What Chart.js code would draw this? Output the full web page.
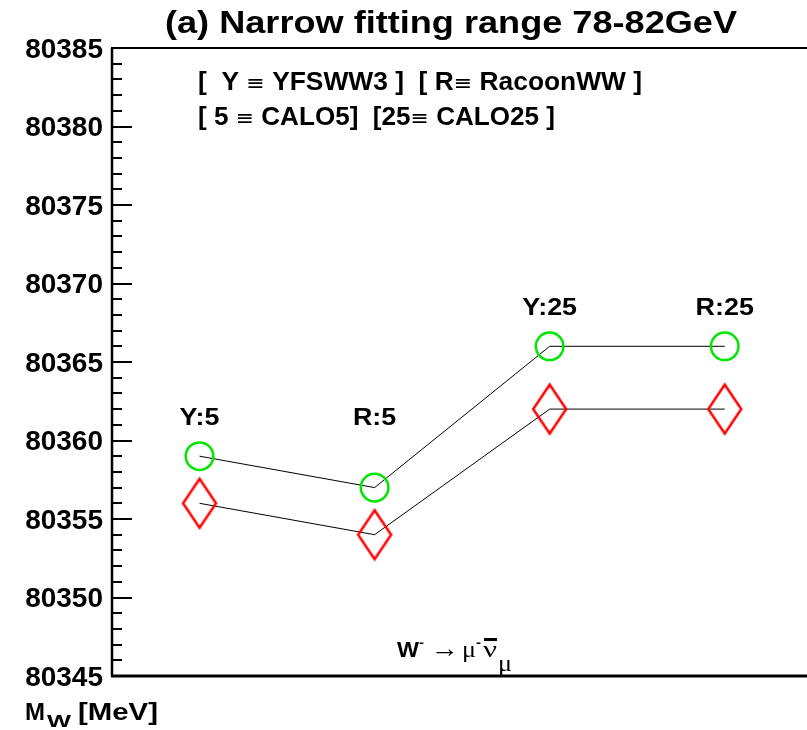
<!DOCTYPE html>
<html>
<head>
<meta charset="utf-8">
<script src="https://cdn.jsdelivr.net/npm/chart.js@4.4.1/dist/chart.umd.min.js"></script>
<style>
  html, body { margin: 0; padding: 0; background: #fff; overflow: hidden; }
  #wrap { position: relative; width: 807px; height: 730px; }
</style>
</head>
<body>
<div id="wrap"><canvas id="c" width="807" height="730"></canvas></div>
<script>
// Fitted W mass per generator / calorimeter setting
const categories  = ['Y:5', 'R:5', 'Y:25', 'R:25'];
const circleMass  = [80359, 80357, 80366, 80366];
const diamondMass = [80356, 80354, 80362, 80362];
const yTicks      = [80345, 80350, 80355, 80360, 80365, 80370, 80375, 80380, 80385];
// baseline level (in MeV) of each category tag
const tagLevels   = [80361, 80361, 80368, 80368];

const SANS  = "'Liberation Sans', Arial, Helvetica, sans-serif";
const SERIF = "'Liberation Serif', 'DejaVu Serif', 'Times New Roman', serif";

function diamondMarker(hw, hh, color, lw) {
  const c = document.createElement('canvas');
  c.width = Math.round(2 * hw + 2 * lw);
  c.height = Math.round(2 * hh + 2 * lw);
  const g = c.getContext('2d');
  const cx = c.width / 2, cy = c.height / 2;
  g.strokeStyle = color;
  g.lineWidth = lw;
  g.lineJoin = 'miter';
  g.beginPath();
  g.moveTo(cx, cy - hh);
  g.lineTo(cx + hw, cy);
  g.lineTo(cx, cy + hh);
  g.lineTo(cx - hw, cy);
  g.closePath();
  g.stroke();
  return c;
}

// draw text starting at x, squeezed/stretched horizontally to width w
function drawFit(ctx, text, x, y, font, w) {
  ctx.save();
  ctx.font = font;
  ctx.textAlign = 'left';
  ctx.textBaseline = 'alphabetic';
  const m = ctx.measureText(text).width;
  const sx = w ? w / m : 1;
  ctx.translate(x, y);
  ctx.scale(sx, 1);
  ctx.fillStyle = '#000';
  ctx.fillText(text, 0, 0);
  ctx.restore();
}

// draw a sequence of differently styled runs spanning width w
function drawRuns(ctx, runs, x, y, w) {
  ctx.save();
  let total = 0;
  runs.forEach(r => { ctx.font = r.f; r.m = ctx.measureText(r.t).width; total += r.m; });
  const sx = w / total;
  ctx.translate(x, y);
  ctx.scale(sx, 1);
  ctx.textAlign = 'left';
  ctx.textBaseline = 'alphabetic';
  ctx.fillStyle = '#000';
  let cx = 0;
  runs.forEach(r => { ctx.font = r.f; ctx.fillText(r.t, cx, r.dy || 0); cx += r.m; });
  ctx.restore();
}

const framePlugin = {
  id: 'frame',
  afterDraw(chart) {
    const ctx = chart.ctx;
    const a = chart.chartArea;
    const ys = chart.scales.y;
    ctx.save();
    ctx.strokeStyle = '#000';
    // tick marks pointing into the frame
    ctx.lineWidth = 2;
    for (let v = ys.min; v <= ys.max; v += 1) {
      const py = Math.round(ys.getPixelForValue(v));
      const len = (v % 5 === 0) ? 20 : 10;
      ctx.beginPath();
      ctx.moveTo(a.left, py);
      ctx.lineTo(a.left + len, py);
      ctx.stroke();
    }
    // frame
    ctx.lineWidth = 2.5;
    ctx.beginPath();
    ctx.moveTo(a.left, a.top);
    ctx.lineTo(a.left, a.bottom);
    ctx.stroke();
    ctx.lineWidth = 2;
    ctx.beginPath();
    ctx.moveTo(a.left - 1, a.top);
    ctx.lineTo(a.right, a.top);
    ctx.stroke();
    ctx.lineWidth = 3;
    ctx.beginPath();
    ctx.moveTo(a.left - 1, a.bottom);
    ctx.lineTo(a.right, a.bottom);
    ctx.stroke();
    ctx.restore();
  }
};

const textPlugin = {
  id: 'texts',
  afterDraw(chart) {
    const ctx = chart.ctx;
    const xs = chart.scales.x, ys = chart.scales.y;
    const B25 = 'bold 25px ' + SANS;
    const SYM = '21px DejaVu Sans, sans-serif';

    // title
    drawFit(ctx, '(a) Narrow fitting range 78-82GeV', 165, 33, 'bold 32px ' + SANS, 572);

    // key
    drawRuns(ctx, [
      { t: '[  Y ', f: B25 }, { t: '\u2261', f: SYM }, { t: ' YFSWW3 ]  [ R', f: B25 },
      { t: '\u2261', f: SYM }, { t: ' RacoonWW ]', f: B25 }
    ], 198, 90, 444);
    drawRuns(ctx, [
      { t: '[ 5 ', f: B25 }, { t: '\u2261', f: SYM }, { t: ' CALO5]  [25', f: B25 },
      { t: '\u2261', f: SYM }, { t: ' CALO25 ]', f: B25 }
    ], 198, 125, 357);

    // category tags above each pair of markers
    ctx.save();
    ctx.font = 'bold 24px ' + SANS;
    categories.forEach((c, i) => {
      const m = ctx.measureText(c).width * 1.12;
      const px = xs.getPixelForValue(i);
      const py = ys.getPixelForValue(tagLevels[i]);
      drawFit(ctx, c, px - m / 2, py, 'bold 24px ' + SANS, m);
    });
    ctx.restore();

    // decay channel
    drawFit(ctx, 'W', 397, 657, 'bold 22px ' + SANS, 22);
    drawFit(ctx, '-', 419, 647, 'bold 13px ' + SANS, 5);
    drawFit(ctx, '\u2192', 431, 657, '26px ' + SERIF, 28);
    drawFit(ctx, '\u03bc', 462, 657, '24px ' + SERIF, 14);
    drawFit(ctx, '-', 476, 647, 'bold 13px ' + SANS, 5);
    drawFit(ctx, '\u03bd', 483, 657, '24px ' + SERIF, 14);
    ctx.fillStyle = '#000';
    ctx.fillRect(484, 638, 13, 3);
    drawFit(ctx, '\u03bc', 498, 671, '23px ' + SERIF, 14);

    // axis title
    drawFit(ctx, 'M', 25, 720, 'bold 24px ' + SANS, 20);
    drawFit(ctx, 'W', 47, 727, 'bold 17px ' + SANS, 24);
    drawFit(ctx, '[MeV]', 78, 720, 'bold 24px ' + SANS, 80);
  }
};

new Chart(document.getElementById('c'), {
  type: 'line',
  data: {
    labels: categories,
    datasets: [
      {
        data: circleMass.map((v, i) => ({ x: i, y: v })),
        borderColor: '#000',
        borderWidth: 1,
        tension: 0,
        fill: false,
        pointStyle: 'circle',
        pointRadius: 13.8,
        pointHoverRadius: 13.8,
        pointBorderWidth: 2.5,
        pointBorderColor: 'rgb(0,230,0)',
        pointBackgroundColor: 'rgba(0,0,0,0)'
      },
      {
        data: diamondMass.map((v, i) => ({ x: i, y: v })),
        borderColor: '#000',
        borderWidth: 1,
        tension: 0,
        fill: false,
        pointStyle: diamondMarker(16.5, 24.5, 'rgb(255,0,0)', 2.5),
        pointRadius: 20,
        pointHoverRadius: 20,
        pointBorderWidth: 0
      }
    ]
  },
  options: {
    responsive: false,
    animation: false,
    devicePixelRatio: 1,
    layout: { autoPadding: false, padding: { top: 48, bottom: 54, left: 0, right: 0 } },
    plugins: { legend: { display: false }, tooltip: { enabled: false } },
    events: [],
    scales: {
      // four equally spaced settings, half a step of margin on the left
      x: { type: 'linear', min: -0.5, max: 3.47, display: false },
      y: {
        position: 'left',
        min: yTicks[0],
        max: yTicks[yTicks.length - 1],
        afterFit(s) { s.width = 112; },
        afterBuildTicks(s) { s.ticks = yTicks.map(v => ({ value: v })); },
        grid: { display: false, drawTicks: false },
        border: { display: false },
        ticks: {
          padding: 9,
          labelOffset: 2,
          color: '#000',
          font: { family: SANS, weight: 'bold', size: 28 },
          callback: v => String(v)
        }
      }
    }
  },
  plugins: [framePlugin, textPlugin]
});
</script>
</body>
</html>
